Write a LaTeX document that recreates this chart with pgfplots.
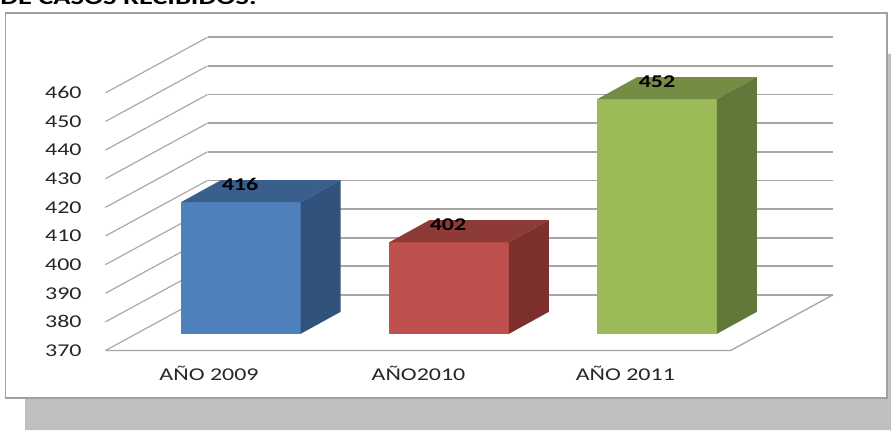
\documentclass[border=0pt]{standalone}
\usepackage{fontspec}
\setmainfont[FakeStretch=1.33]{Carlito}
\usepackage{pgfplots}
\pgfplotsset{compat=1.18}
\usepackage{pgfplotstable}
\definecolor{gridc}{HTML}{A6A6A6}
\definecolor{framec}{HTML}{A0A0A0}
\definecolor{shadowc}{HTML}{BFBFBF}
\definecolor{txt}{HTML}{262626}
\definecolor{bf}{HTML}{4F81BD}\definecolor{bt}{HTML}{3A5F8C}\definecolor{bs}{HTML}{31527A}
\definecolor{rf}{HTML}{C0504D}\definecolor{rt}{HTML}{8E3A38}\definecolor{rs}{HTML}{7B302E}
\definecolor{gf}{HTML}{9BBB59}\definecolor{gt}{HTML}{748C43}\definecolor{gs}{HTML}{62773A}
\pgfplotstableread{
xc  v
240 416
448 402
657 452
}\casos
% one bar: left x, value, front, top, side colours
\newcommand\caja[5]{%
  \addplot[fill=#3,draw=none] coordinates {(#1,375.8)(#1+119.5,375.8)(#1+119.5,#2+5.8)(#1,#2+5.8)} --cycle;
  \addplot[fill=#4,draw=none] coordinates {(#1,#2+5.8)(#1+119.5,#2+5.8)(#1+159.5,#2+13.5)(#1+40,#2+13.5)} --cycle;
  \addplot[fill=#5,draw=none] coordinates {(#1+119.5,375.8)(#1+159.5,383.5)(#1+159.5,#2+13.5)(#1+119.5,#2+5.8)} --cycle;
}
\newcommand\rejilla[1]{%
  \addplot[gridc,line width=1.3pt] coordinates {(207.5,#1+19.4)(832.7,#1+19.4)};
  \addplot[gridc,line width=0.85pt] coordinates {(105.5,#1)(207.5,#1+19.4)};
}
\begin{document}
\begin{tikzpicture}
\useasboundingbox (0,0) rectangle (668.25pt,322.5pt);
\clip (0,0) rectangle (668.25pt,322.5pt);
\begin{axis}[
  at={(0,0)},anchor=origin,
  scale only axis,width=668.25pt,height=322.5pt,
  xmin=0,xmax=891,ymin=342.23,ymax=492.42,
  axis line style={draw=none},
  tick style={draw=none},
  clip=false,
  /pgf/number format/assume math mode=true,
  ytick={370,380,390,400,410,420,430,440,450,460},
  xtick={209,418.5,625.3},
  xticklabels={AÑO 2009,AÑO2010,AÑO 2011},
  tick label style={font=\fontsize{13.5pt}{15pt}\selectfont,text=txt},
  yticklabel style={anchor=center,xshift=47.5pt},
  xticklabel style={anchor=center,yshift=42.75pt},
  nodes near coords style={anchor=center,font=\fontsize{13.5pt}{15pt}\selectfont\bfseries,text=black},
  axis on top=true,
]
\addplot[fill=shadowc,draw=none] coordinates {(25,342.23)(891,342.23)(891,473.6)(880,473.6)(880,353.5)(25,353.5)} --cycle;
\addplot[fill=white,draw=framec,line width=1.3pt] coordinates {(5.5,353.51)(887,353.51)(887,487.88)(5.5,487.88)} --cycle;
\rejilla{370}\rejilla{380}\rejilla{390}\rejilla{400}\rejilla{410}
\rejilla{420}\rejilla{430}\rejilla{440}\rejilla{450}\rejilla{460}
\addplot[gridc,line width=1pt] coordinates {(105.5,370)(730.7,370)(832.7,389.4)};
\caja{181}{416}{bf}{bt}{bs}
\caja{389.3}{402}{rf}{rt}{rs}
\caja{597.3}{452}{gf}{gt}{gs}
\addplot[only marks,mark=none,point meta=explicit,nodes near coords]
  table[x=xc,y expr=\thisrow{v}+12,meta=v] {\casos};
\node[anchor=base west,inner sep=0pt,font=\fontsize{16pt}{17pt}\selectfont\bfseries] at (axis cs:0,490.78) {DE CASOS RECIBIDOS.};
\end{axis}
\end{tikzpicture}
\end{document}
